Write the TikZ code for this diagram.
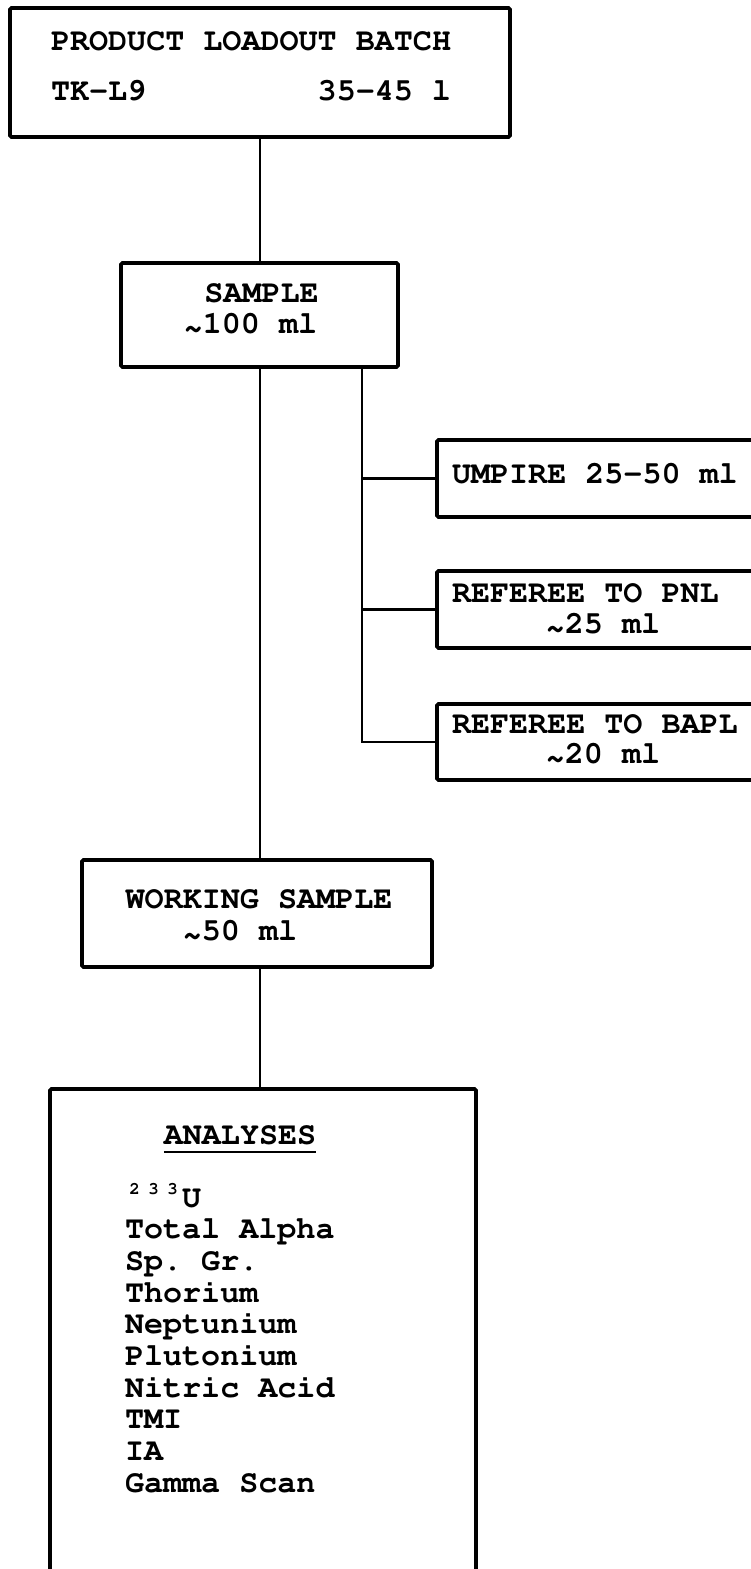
\documentclass[tikz,border=0pt]{standalone}
\usepackage[T1]{fontenc}
\usepackage{courier}
\newcommand\typer{\ttfamily\bfseries\frenchspacing}
\newcommand\tld{\raisebox{-5pt}{\char`\~}}
\usetikzlibrary{positioning}

\begin{document}
\begin{tikzpicture}[x=1pt,y=-1pt]
	\tikzstyle{every node}=[inner sep=0pt,outer sep=0pt]
	\tikzstyle{box}=[draw,line width=3.6pt,rounded corners=1.5pt]
	\tikzstyle{txt}=[font=\typer\fontsize{31.75}{32}\selectfont,anchor=base]
	\tikzstyle{link}=[line width=2.6pt]
	\useasboundingbox (0,0) rectangle (750,1569);

	% boxes
	\node[box,minimum width=500pt,minimum height=129pt] (batch) at (260,72.5) {};
	\node[box,minimum width=277pt,minimum height=104pt] (sample) at (259.5,315) {};
	\node[box,minimum width=330pt,minimum height=77pt] (umpire) at (602,478.5) {};
	\node[box,minimum width=330pt,minimum height=77pt] (pnl) at (602,609.5) {};
	\node[box,minimum width=330pt,minimum height=76pt] (bapl) at (602,742) {};
	\node[box,minimum width=350pt,minimum height=107pt] (work) at (257,913.5) {};
	\node[box,minimum width=426pt,minimum height=500pt] (anal) at (263,1339) {};

	% texts
	\node[txt,anchor=base west] (batch1) at (51,50) {PRODUCT LOADOUT BATCH};
	\node[txt,anchor=base west] (batch2) at (51,100) {TK-L9\ \ \ \ \ \ \ \ \ 35-45 l};
	\node[txt] (sample1) at (261.5,302) {SAMPLE};
	\node[txt] (sample2) at (250.5,333) {\tld100 ml};
	\node[txt,anchor=base west] (umpire1) at (452,483) {UMPIRE 25-50 ml};
	\node[txt,anchor=base west] (pnl1) at (452,602) {REFEREE TO PNL};
	\node[txt] (pnl2) at (603,633) {\tld25 ml};
	\node[txt,anchor=base west] (bapl1) at (452,733) {REFEREE TO BAPL};
	\node[txt] (bapl2) at (603,763) {\tld20 ml};
	\node[txt] (work1) at (259,908) {WORKING SAMPLE};
	\node[txt] (work2) at (240,940) {\tld50 ml};
	\node[txt] (anal0) at (240,1144) {ANALYSES};
	\draw[line width=2.2pt] (anal0.base west) ++(0,8) coordinate (ul) -- (ul -| anal0.base east);
	\node[txt,anchor=base west] (item0) at (125,1207)
		{\raisebox{13pt}{\fontsize{17.5}{18}\selectfont\makebox[19.05pt]{2}\makebox[19.05pt]{3}\makebox[19.05pt]{3}}U};
	\foreach \item [count=\i] in {Total Alpha,Sp. Gr.,Thorium,Neptunium,Plutonium,Nitric Acid,TMI,IA,Gamma Scan}
		\node[txt,anchor=base west] (item\i) at (125,1207+31.7*\i) {\item};

	% connectors
	\coordinate (spine) at (260,0);
	\coordinate (tap) at (362,0);
	\draw[link] (spine |- batch.south) -- (spine |- sample.north);
	\draw[link] (spine |- sample.south) -- (spine |- work.north);
	\draw[link] (spine |- work.south) -- (spine |- anal.north);
	\draw[link] (tap |- sample.south) -- (tap |- bapl.west) -- (bapl.west);
	\draw[link] (tap |- umpire.west) -- (umpire.west);
	\draw[link] (tap |- pnl.west) -- (pnl.west);
\end{tikzpicture}
\end{document}
